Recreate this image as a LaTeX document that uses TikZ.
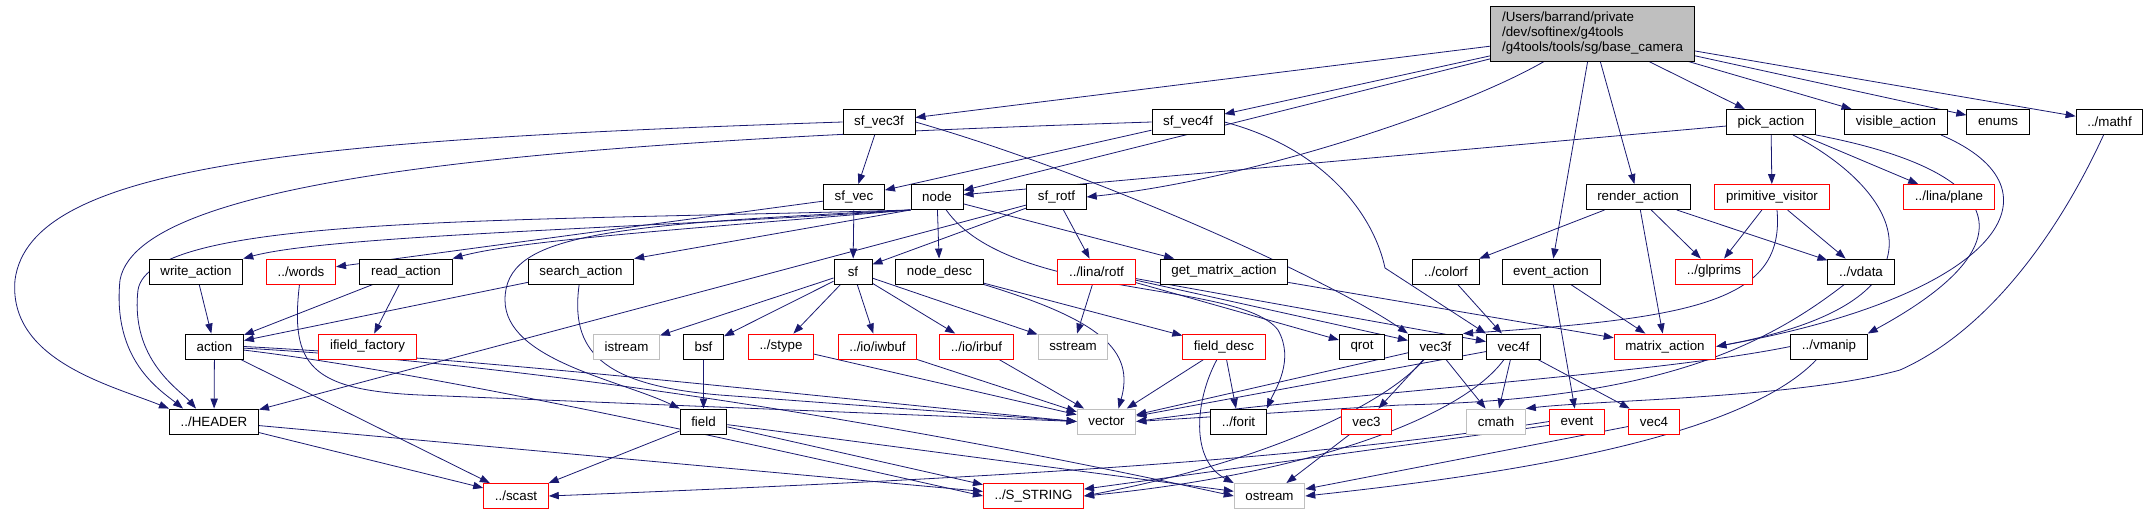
\documentclass[tikz,border=0pt]{standalone}
\usepackage{fontspec}
\setmainfont{Liberation Sans}
\usetikzlibrary{arrows.meta,calc,backgrounds}
\definecolor{grey75}{RGB}{191,191,191}
\definecolor{edgeblue}{RGB}{25,25,112}
\tikzset{
 hdr/.style={draw=black,line width=.7pt,fill=white,inner xsep=8.4pt,inner ysep=0pt,minimum height=18.75pt,minimum width=28.5pt,font=\fontsize{10}{11.25}\selectfont},
 redhdr/.style={hdr,draw=red},
 syshdr/.style={hdr,draw=grey75},
 dep/.style={draw=edgeblue,line width=.6pt,-{Triangle[length=7.5pt,width=5.5pt]}}
}
\begin{document}
\begin{tikzpicture}[x=.75pt,y=-.75pt]
 \useasboundingbox (0,0) rectangle (2149,515);
 \node[hdr,fill=grey75,align=left,minimum height=41.25pt] (bcam) at (1592.5,33.5) {/Users/barrand/private\\/dev/softinex/g4tools\\/g4tools/tools/sg/base\_camera};
 % row 1
 \node[hdr] (svec3) at (879,122) {sf\_vec3f}; \node[hdr] (svec4) at (1188,122) {sf\_vec4f};
 \node[hdr] (pick) at (1771,122) {pick\_action}; \node[hdr] (visi) at (1896,122) {visible\_action};
 \node[hdr] (enums) at (1998,122) {enums}; \node[hdr] (mathf) at (2109.5,122) {../mathf};
 % row 2
 \node[hdr] (svec) at (854,197) {sf\_vec}; \node[hdr] (nd) at (937,197) {node}; \node[hdr] (srot) at (1056.5,197) {sf\_rotf};
 \node[hdr] (rend) at (1638,197) {render\_action}; \node[redhdr] (prim) at (1772,197) {primitive\_visitor};
 \node[redhdr] (plane) at (1949,197) {../lina/plane};
 % row 3
 \node[hdr] (wact) at (196,271.5) {write\_action}; \node[redhdr] (words) at (301,271.5) {../words};
 \node[hdr] (ract) at (406,271.5) {read\_action}; \node[hdr] (sact) at (581,271.5) {search\_action};
 \node[hdr] (sf) at (853,271.5) {sf}; \node[hdr] (ndesc) at (939.5,271.5) {node\_desc};
 \node[redhdr] (lrot) at (1096.5,271.5) {../lina/rotf}; \node[hdr] (gmat) at (1224,271.5) {get\_matrix\_action};
 \node[hdr] (colorf) at (1446,271.5) {../colorf}; \node[hdr] (eact) at (1551,271.5) {event\_action};
 \node[redhdr] (glprims) at (1714,271.5) {../glprims}; \node[hdr] (vdata) at (1861,271.5) {../vdata};
 % row 4
 \node[hdr] (act) at (214.5,346.5) {action}; \node[redhdr] (iff) at (367.5,346.5) {ifield\_factory};
 \node[syshdr] (istream) at (626.5,346.5) {istream}; \node[hdr] (bsf) at (703.5,346.5) {bsf};
 \node[redhdr] (stype) at (781,346.5) {../stype}; \node[redhdr] (iwbuf) at (877.5,346.5) {../io/iwbuf};
 \node[redhdr] (irbuf) at (976.5,346.5) {../io/irbuf}; \node[syshdr] (sstream) at (1073,346.5) {sstream};
 \node[redhdr] (fdesc) at (1224,346.5) {field\_desc}; \node[hdr] (qrot) at (1362,346.5) {qrot};
 \node[hdr] (v3f) at (1435.5,346.5) {vec3f}; \node[hdr] (v4f) at (1513.5,346.5) {vec4f};
 \node[redhdr] (mact) at (1665,346.5) {matrix\_action}; \node[hdr] (vmanip) at (1829,346.5) {../vmanip};
 % row 5
 \node[hdr] (header) at (214,421.5) {../HEADER}; \node[hdr] (field) at (703.5,421.5) {field};
 \node[syshdr] (vector) at (1106.5,421.5) {vector}; \node[hdr] (forit) at (1238.5,421.5) {../forit};
 \node[redhdr] (vec3) at (1366.5,421.5) {vec3}; \node[syshdr] (cmath) at (1496,421.5) {cmath};
 \node[redhdr] (event) at (1577,421.5) {event}; \node[redhdr] (vec4) at (1654,421.5) {vec4};
 % row 6
 \node[redhdr] (scast) at (516,496) {../scast}; \node[redhdr] (sstring) at (1033.5,496) {../S\_STRING};
 \node[syshdr] (ostream) at (1269.5,496) {ostream};
 \begin{scope}[on background layer]
 \foreach \a/\b in {bcam/svec3,bcam/svec4,bcam/nd,bcam/eact,bcam/rend,bcam/pick,bcam/visi,bcam/enums,bcam/mathf,
  svec3/svec,svec4/svec,srot/sf,srot/lrot,srot/header,svec/sf,svec/words,nd/ndesc,nd/gmat,
  pick/nd,pick/prim,pick/plane,rend/colorf,rend/glprims,rend/vdata,rend/mact,prim/glprims,prim/vdata,
  colorf/v4f,eact/event,eact/mact,gmat/mact,wact/act,ract/act,ract/iff,sact/act,
  sf/istream,sf/bsf,sf/stype,sf/iwbuf,sf/irbuf,sf/sstream,ndesc/fdesc,lrot/sstream,lrot/qrot,lrot/v3f,lrot/v4f,
  fdesc/vector,fdesc/forit,v3f/vector,v3f/vec3,v3f/cmath,v4f/vector,v4f/cmath,v4f/vec4,vec3/ostream,vec4/ostream,
  event/sstring,bsf/field,field/scast,field/sstring,field/ostream,header/scast,header/sstring,act/header,act/scast,
  stype/vector,iwbuf/vector,irbuf/vector}
  \draw[dep] (\a) -- (\b);
 \draw[dep] (bcam) .. controls (1460,110) and (1250,180) .. (srot.east);
 \draw[dep] (svec3.east) .. controls (1100,175) and (1330,280) .. (v3f.north west);
 \draw[dep] (svec4.east) .. controls (1330,150) and (1375,220) .. (1385,268) -- (v4f.north west);
 \draw[dep] (svec3.west) .. controls (300,140) and (30,165) .. (15,280) .. controls (8,360) and (110,385) .. (header.north west);
 \draw[dep] (svec4.west) .. controls (600,140) and (140,170) .. (120,280) .. controls (112,360) and (160,390) .. ($(header.north west)+(14,0)$);
 \draw[dep] (nd.south west) .. controls (500,222) and (150,215) .. (138,290) .. controls (130,360) and (180,390) .. ($(header.north west)+(27,0)$);
 \draw[dep] (nd.south west) .. controls (650,228) and (330,235) .. (wact.north east);
 \draw[dep] (nd.south west) .. controls (700,228) and (520,240) .. (ract.north east);
 \draw[dep] (nd.south west) -- (sact.north east);
 \draw[dep] (nd.south west) .. controls (600,225) and (505,235) .. (505,300) .. controls (505,360) and (620,380) .. (field.north west);
 \draw[dep] (nd) .. controls (1010,300) and (1240,280) .. (1278,330) .. controls (1295,360) and (1275,390) .. (forit.north east);
 \draw[dep] ($(pick.south)+(22,0)$) .. controls (1900,190) and (1965,300) .. (mact.east);
 \draw[dep] (pick.south east) .. controls (2000,170) and (2040,240) .. (vmanip.north east);
 \draw[dep] ($(visi.south)+(45,0)$) .. controls (2070,190) and (2000,295) .. (mact.east);
 \draw[dep] (mathf) .. controls (2060,230) and (1990,330) .. (1900,370) .. controls (1800,398) and (1600,400) .. (cmath.north east);
 \draw[dep] ($(prim.south)+(5,0)$) .. controls (1785,300) and (1700,318) .. (v3f.north east);
 \draw[dep] (vdata) .. controls (1760,350) and (1650,400) .. (1400,405) -- (vector.east);
 \draw[dep] (vmanip.west) .. controls (1650,375) and (1350,392) .. (vector.east);
 \draw[dep] (vmanip) .. controls (1740,440) and (1500,475) .. (ostream.east);
 \draw[dep] (sact) .. controls (570,350) and (600,385) .. (720,395) -- (vector.west);
 \draw[dep] (words) .. controls (290,365) and (310,390) .. (420,395) -- (vector.west);
 \draw[dep] (ndesc.south east) .. controls (1100,320) and (1135,350) .. ($(vector.north)+(12,0)$);
 \draw[dep] (fdesc) .. controls (1195,400) and (1190,460) .. (ostream.north west);
 \draw[dep] (v3f) .. controls (1380,410) and (1250,465) .. (sstring.east);
 \draw[dep] (v4f) .. controls (1460,420) and (1300,475) .. (sstring.east);
 \draw[dep] (event.west) .. controls (1300,460) and (1000,478) .. (scast.east);
 \draw[dep] (act.east) .. controls (500,360) and (800,395) .. (vector.west);
 \draw[dep] (act) .. controls (450,375) and (800,455) .. (sstring.west);
 \draw[dep] (act) .. controls (600,368) and (1000,445) .. (ostream.west);
 \end{scope}
\end{tikzpicture}
\end{document}
